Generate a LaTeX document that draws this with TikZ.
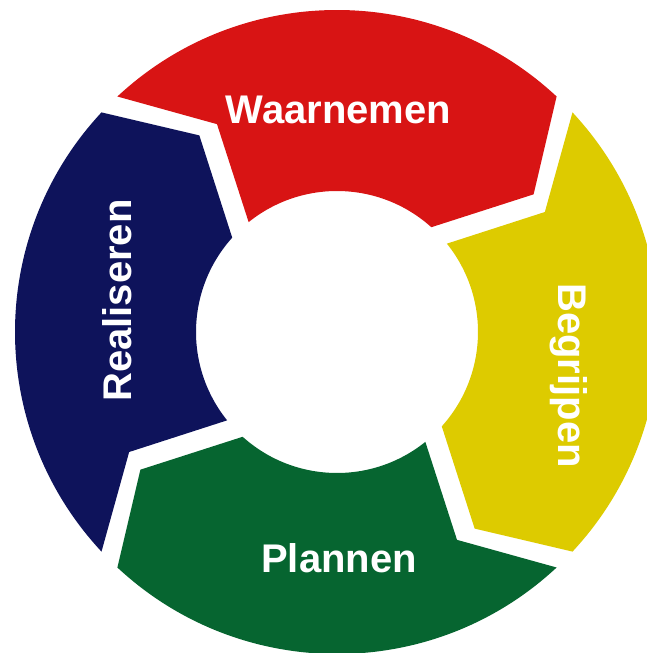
\documentclass[tikz,border=0pt]{standalone}
\usepackage{fontspec}
\setmainfont{Liberation Sans}
\usepackage{tikz}
\usetikzlibrary{arrows.meta}

\definecolor{cyclered}{HTML}{D81414}
\definecolor{cycleyellow}{HTML}{DDCB00}
\definecolor{cyclegreen}{HTML}{066530}
\definecolor{cycleblue}{HTML}{0E135B}

\tikzset{
    steplabel/.style={text=white, font=\fontsize{40}{48}\selectfont\bfseries, anchor=base, inner sep=0pt}
}

\begin{document}
\begin{tikzpicture}[x=1pt, y=1pt]
    \clip (-337,-321) rectangle (310,332);
    % four ring pieces, notch on the left end, tip on the right end
    \foreach \c/\col in {90/cyclered, 0/cycleyellow, 270/cyclegreen, 180/cycleblue}{
        \fill[\col] (\c+43:322) arc[start angle=\c+43, end angle=\c-43, radius=322]
            -- (\c-55:240) -- (\c-42:141)
            arc[start angle=\c-42, end angle=\c+38.8, radius=141]
            -- (\c+30:240) -- cycle;
    }
    \node[steplabel] (waarnemen) at (1.5,208) {Waarnemen};
    \node[steplabel, rotate=-90] (begrijpen) at (221,-43.5) {Begrijpen};
    \node[steplabel] (plannen) at (2,-240) {Plannen};
    \node[steplabel, rotate=90] (realiseren) at (-205,31.5) {Realiseren};
\end{tikzpicture}
\end{document}
